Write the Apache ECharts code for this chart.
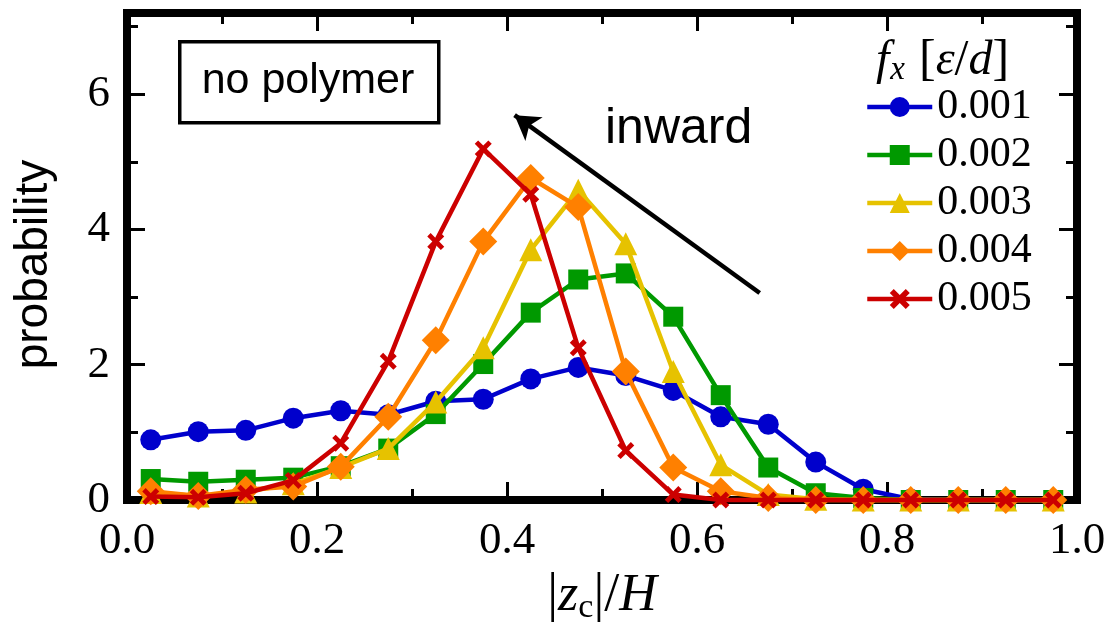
<!DOCTYPE html>
<html>
<head>
<meta charset="utf-8">
<script src="https://cdn.jsdelivr.net/npm/echarts@6/dist/echarts.min.js"></script>
<style>
html,body{margin:0;padding:0;background:#fff;}
#chart{width:1108px;height:625px;}
</style>
</head>
<body>
<div id="chart"></div>
<script>
// bin centres of |z_c|/H
const binCenters = [0.025, 0.075, 0.125, 0.175, 0.225, 0.275, 0.325, 0.375, 0.425, 0.475,
                    0.525, 0.575, 0.625, 0.675, 0.725, 0.775, 0.825, 0.875, 0.925, 0.975];
const seriesNames = ['0.001', '0.002', '0.003', '0.004', '0.005'];
const p001 = [0.89, 1.01, 1.03, 1.21, 1.32, 1.26, 1.46, 1.49, 1.79, 1.96, 1.84, 1.62, 1.23, 1.12, 0.56, 0.16, 0.01, 0, 0, 0];
const p002 = [0.31, 0.27, 0.30, 0.33, 0.50, 0.76, 1.27, 2.01, 2.77, 3.26, 3.35, 2.71, 1.55, 0.48, 0.10, 0.03, 0, 0, 0, 0];
const p003 = [0.11, 0.06, 0.12, 0.24, 0.48, 0.76, 1.45, 2.25, 3.70, 4.58, 3.79, 1.90, 0.52, 0.08, 0.01, 0, 0, 0, 0, 0];
const p004 = [0.13, 0.06, 0.15, 0.20, 0.49, 1.23, 2.36, 3.82, 4.76, 4.33, 1.90, 0.48, 0.13, 0.03, 0, 0, 0, 0, 0, 0];
const p005 = [0.05, 0.04, 0.10, 0.29, 0.84, 2.05, 3.82, 5.19, 4.52, 2.25, 0.73, 0.08, 0, 0, 0, 0, 0, 0, 0, 0];
const xTicks = [0.0, 0.2, 0.4, 0.6, 0.8, 1.0];
const yTicks = [0, 2, 4, 6];
// annotation arrow (data coordinates): tail -> head
const arrowTail = [0.666, 3.06];
const arrowHead = [0.408, 5.69];

const values = [p001, p002, p003, p004, p005];
const colors = ['#0000cc', '#009900', '#e6c200', '#ff8000', '#cc0000'];
const crossPath = 'path://M2,0 L5,3 L8,0 L10,2 L7,5 L10,8 L8,10 L5,7 L2,10 L0,8 L3,5 L0,2 Z';
const symbols = ['circle', 'rect', 'triangle', 'diamond', crossPath];
const symbolSizes = [21, 20, 23, 28, 17];

const serif = 'Liberation Serif';
const sans = 'Liberation Sans';

const chart = echarts.init(document.getElementById('chart'), null, {renderer: 'canvas'});

const series = seriesNames.map((name, i) => ({
  name: name,
  type: 'line',
  xAxisIndex: 0,
  yAxisIndex: 0,
  data: binCenters.map((x, j) => [x, values[i][j]]),
  symbol: symbols[i],
  symbolSize: symbolSizes[i],
  showAllSymbol: true,
  clip: false,
  color: colors[i],
  lineStyle: {width: 4.5, color: colors[i]},
  itemStyle: {color: colors[i]},
  z: 2 + i
}));

series[0].markLine = {
  silent: true,
  symbol: ['none', 'arrow'],
  symbolSize: [22, 24],
  label: {show: false},
  lineStyle: {color: '#000', width: 4.5, type: 'solid'},
  data: [[{coord: arrowTail}, {coord: arrowHead}]]
};

const tickCommon = {
  axisTick: {show: true, inside: true, length: 18, lineStyle: {width: 3, color: '#000'}},
  minorTick: {show: true, splitNumber: 2, length: 11, lineStyle: {width: 3, color: '#000'}},
  splitLine: {show: false},
  minorSplitLine: {show: false},
  axisLine: {show: false, onZero: false}
};

const option = {
  animation: false,
  backgroundColor: '#fff',
  grid: {left: 127, top: 13, width: 950, height: 487, show: true, borderWidth: 8, borderColor: '#000',
         backgroundColor: 'transparent', outerBoundsMode: 'none', containLabel: false},
  xAxis: [
    Object.assign({
      type: 'value', position: 'bottom', min: 0, max: 1, interval: 0.2,
      name: '{n||}{i|z}{sub|c}{n||/}{i|H}',
      nameLocation: 'middle', nameGap: 64,
      nameTextStyle: {
        rich: {
          n: {fontFamily: serif, fontSize: 54, color: '#000'},
          i: {fontFamily: serif, fontStyle: 'italic', fontSize: 52, color: '#000'},
          sub: {fontFamily: serif, fontSize: 34, color: '#000', padding: [24, 0, 0, 0]}
        }
      },
      axisLabel: {margin: 19, fontFamily: serif, fontSize: 45, color: '#000', formatter: v => v.toFixed(1)}
    }, tickCommon),
    Object.assign({
      type: 'value', position: 'top', min: 0, max: 1, interval: 0.2,
      axisLabel: {show: false}
    }, tickCommon)
  ],
  yAxis: [
    Object.assign({
      type: 'value', position: 'left', min: 0, max: 7.2, interval: 2,
      name: 'probability', nameLocation: 'middle', nameGap: 70, nameRotate: 90,
      nameTextStyle: {fontFamily: sans, fontSize: 46, color: '#000', padding: [0, 16, 0, 0]},
      axisLabel: {margin: 17, fontFamily: serif, fontSize: 45, color: '#000', showMaxLabel: false,
        formatter: v => (yTicks.indexOf(v) >= 0 ? String(v) : '')}
    }, tickCommon),
    Object.assign({
      type: 'value', position: 'right', min: 0, max: 7.2, interval: 2,
      axisLabel: {show: false}
    }, tickCommon)
  ],
  legend: {
    orient: 'vertical', left: 865, top: 83, padding: 0,
    itemWidth: 65, itemHeight: 25, itemGap: 0,
    data: seriesNames,
    lineStyle: {width: 4.5},
    textStyle: {fontFamily: serif, fontSize: 42, color: '#000', lineHeight: 48}
  },
  graphic: [
    {
      type: 'rect', left: 178, top: 40, z: 10,
      shape: {width: 259, height: 81},
      style: {fill: '#fff', stroke: '#000', lineWidth: 3.5}
    },
    {
      type: 'text', x: 308, y: 81, z: 11,
      style: {text: 'no polymer', fontFamily: sans, fontSize: 43, fill: '#000', align: 'center', verticalAlign: 'middle'}
    },
    {
      type: 'text', left: 605, top: 104, z: 11,
      style: {text: 'inward', fontFamily: sans, fontSize: 50, fill: '#000'}
    },
    {
      type: 'text', left: 876, top: 36, z: 11,
      style: {
        text: '{f|f}{s|x}{n|[}{i|ε}{n|/}{i|d}{n|]}',
        rich: {
          f: {fontFamily: serif, fontStyle: 'italic', fontSize: 48, fill: '#000'},
          s: {fontFamily: serif, fontStyle: 'italic', fontSize: 33, fill: '#000', padding: [18, 14, 0, 1]},
          n: {fontFamily: serif, fontSize: 50, fill: '#000'},
          i: {fontFamily: serif, fontStyle: 'italic', fontSize: 48, fill: '#000'}
        }
      }
    }
  ],
  series: series
};
chart.setOption(option);
</script>
</body>
</html>
